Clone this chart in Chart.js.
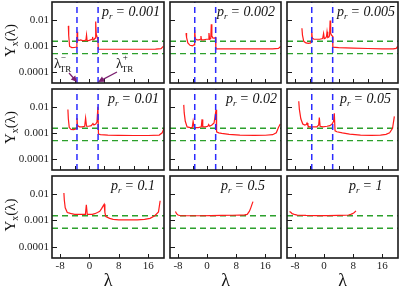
<!DOCTYPE html>
<html>
<head>
<meta charset="utf-8">
<title>Y_x(lambda) for several p_r</title>
<script src="https://cdn.jsdelivr.net/npm/chart.js@4.4.1/dist/chart.umd.min.js"></script>
<style>
  html, body { margin: 0; padding: 0; background: #fff; }
  body { position: relative; width: 399px; height: 289px; overflow: hidden; }
  canvas { position: absolute; }
</style>
</head>
<body>
<script>
// ---- data ----
var prLabels = ["0.001", "0.002", "0.005", "0.01", "0.02", "0.05", "0.1", "0.5", "1"];
var lamTR = [-3.4, 2.35];            // lambda_TR^- and lambda_TR^+
var greenLevels = [0.0015, 0.0005];
var xTickLabels = [-8, 0, 8, 16];
var xMinorTicks = [-8, -4, 0, 4, 8, 12, 16];
var yTicks = [0.01, 0.001, 0.0001];
var yTickText = ["0.01", "0.001", "0.0001"];

var lam1 = [-5.75,-5.65,-5.4,-4.8,-4.0,-3.55,-3.42,-3.35,-3.22,-2.9,-2.4,-1.9,-1.3,-0.95,-0.8,-0.65,-0.2,0.3,0.7,0.85,1.0,1.3,1.55,1.7,1.85,2.1,2.3,2.4,3.0,6,10,14,18,19.5,20.1];
var y1 = [0.0059,0.0025,0.00095,0.00086,0.00087,0.0009,0.0014,0.0035,0.0018,0.0016,0.0017,0.0016,0.0016,0.0017,0.0026,0.0016,0.0016,0.0017,0.0018,0.0022,0.0017,0.0018,0.002,0.0086,0.0028,0.0022,0.0019,0.00074,0.00074,0.00074,0.00074,0.00074,0.00075,0.00078,0.00095];

var lam2 = [-5.8,-5.65,-5.3,-4.7,-4.0,-3.6,-3.45,-3.38,-3.25,-2.8,-2.2,-1.85,-1.7,-1.55,-0.9,-0.2,0.3,0.5,0.7,1.0,1.15,1.3,1.6,2.0,2.3,2.4,3.5,8,13,18,19.6,20.2];
var y2 = [0.0031,0.0021,0.0013,0.00105,0.001,0.0011,0.0016,0.0041,0.0019,0.0017,0.0017,0.0018,0.0024,0.0017,0.0017,0.0018,0.0018,0.0031,0.0018,0.0019,0.0068,0.0024,0.002,0.002,0.0021,0.00076,0.00076,0.00076,0.00076,0.00077,0.0008,0.00095];

var lam3 = [-6.1,-5.95,-5.6,-5.0,-4.3,-3.7,-3.5,-3.4,-3.25,-2.8,-2.0,-1.2,-0.4,-0.15,0.05,0.4,0.65,0.8,1.0,1.3,1.5,1.65,1.8,2.1,2.3,2.4,4,8,12,16,19,19.8,20.2];
var y3 = [0.0048,0.0026,0.0015,0.0013,0.00125,0.0013,0.0016,0.0035,0.002,0.0018,0.0018,0.0018,0.0019,0.003,0.0019,0.002,0.0023,0.0035,0.0021,0.0022,0.0025,0.0094,0.003,0.0025,0.0024,0.00089,0.00086,0.00082,0.00079,0.00077,0.00076,0.0008,0.00095];

var lam4 = [-5.87,-5.75,-5.5,-5.0,-4.3,-3.7,-3.5,-3.4,-3.25,-2.7,-2.0,-1.3,-1.05,-0.8,-0.2,0.5,0.95,1.2,1.7,2.05,2.3,2.45,3,5,8,12,16,19,19.8,20.3];
var y4 = [0.0079,0.0035,0.0016,0.00135,0.00133,0.0014,0.0016,0.0037,0.0019,0.0017,0.0017,0.0018,0.0037,0.0018,0.0018,0.0019,0.0023,0.002,0.0022,0.0026,0.01,0.0009,0.00086,0.00082,0.0008,0.00079,0.00079,0.00082,0.001,0.0015];

var lam5 = [-6.42,-6.3,-6.0,-5.5,-4.6,-4.1,-3.85,-3.6,-3.2,-2.4,-1.6,-1.4,-1.2,-0.5,0.2,0.43,0.7,1.3,1.9,2.2,2.45,2.6,3.2,4,6,9,13,16,18,19,19.6,20.1];
var y5 = [0.012,0.006,0.0028,0.0017,0.0016,0.0016,0.0028,0.0017,0.0016,0.0016,0.0017,0.0033,0.0017,0.0017,0.0018,0.0021,0.0018,0.002,0.0024,0.0045,0.0077,0.0011,0.001,0.00095,0.00088,0.00082,0.0008,0.00081,0.00085,0.001,0.0016,0.0022];

var lam6 = [-6.97,-6.8,-6.4,-5.87,-5.3,-4.9,-4.7,-4.45,-4.0,-3.0,-2.0,-1.5,-1.32,-1.1,-0.3,0.8,1.6,2.2,2.6,2.8,3.0,3.5,5,7,10,13,15.5,17,18,18.8,19.3];
var y6 = [0.0165,0.008,0.0035,0.0022,0.002,0.0021,0.0024,0.0019,0.0017,0.0017,0.0017,0.002,0.0039,0.0018,0.0017,0.0018,0.0019,0.0022,0.0028,0.0057,0.0012,0.0011,0.001,0.0009,0.00082,0.0008,0.00082,0.00088,0.001,0.0015,0.0043];

var lam7 = [-6.96,-6.85,-6.6,-6.04,-5.4,-4.94,-4.0,-3.1,-2.0,-1.1,-0.85,-0.6,0,0.8,1.44,2.2,2.8,3.3,3.7,4.0,4.2,4.46,5.5,6.45,8,10,13,15,16.5,17.8,18.8,19.25];
var y7 = [0.011,0.006,0.003,0.002,0.0019,0.0018,0.0017,0.0017,0.0017,0.0017,0.0039,0.0017,0.0017,0.0017,0.0018,0.002,0.0022,0.0028,0.0035,0.0041,0.002,0.0014,0.0012,0.0011,0.00105,0.00105,0.00105,0.0011,0.0012,0.0015,0.0021,0.0056];

var lam8 = [-8.7,-8.4,-8.0,-7.3,-5,-2,1,4,7,9,10.3,11.0,11.6,12.0,12.3,12.6];
var y8 = [0.0022,0.0018,0.0016,0.0015,0.0015,0.0015,0.00152,0.00155,0.00157,0.0016,0.00162,0.0017,0.0022,0.003,0.004,0.0052];

var lam9 = [-9.5,-9.1,-8.8,-8.2,-7.4,-5,-2,1,4,6,6.7,7.3,7.8,8.3,8.75];
var y9 = [0.0022,0.002,0.0018,0.0017,0.0016,0.00155,0.00153,0.00153,0.00155,0.00157,0.0016,0.0017,0.0018,0.002,0.0023];

var curves = [[lam1, y1], [lam2, y2], [lam3, y3], [lam4, y4], [lam5, y5], [lam6, y6], [lam7, y7], [lam8, y8], [lam9, y9]];

// ---- layout / style ----
var colLeft = [52, 169, 286], rowTop = [2, 89, 176];
var panelW = 112, panelH = 82;
var labelDx = [50, 47, 50, 56, 56, 53, 59, 51, 62];
var X_MIN = -10.2, X_MAX = 20.3, Y_MIN = 3.7e-5, Y_MAX = 0.049;
var SERIF = '"Liberation Serif", "Times New Roman", serif';
Chart.defaults.font.family = SERIF;

function drawTR(ctx, x, y, sign) {
  ctx.font = '14px ' + SERIF;
  ctx.fillText('λ', x, y);
  var w = ctx.measureText('λ').width;
  ctx.font = '9px ' + SERIF;
  ctx.fillText(sign, x + w, y - 8);
  ctx.fillText('TR', x + w - 1, y + 4);
}

function arrow(ctx, x0, y0, x1, y1) {
  var ang = Math.atan2(y1 - y0, x1 - x0);
  ctx.beginPath();
  ctx.moveTo(x0, y0);
  ctx.lineTo(x1 - 4 * Math.cos(ang), y1 - 4 * Math.sin(ang));
  ctx.stroke();
  ctx.beginPath();
  ctx.moveTo(x1, y1);
  ctx.lineTo(x1 - 6 * Math.cos(ang) + 3 * Math.sin(ang), y1 - 6 * Math.sin(ang) - 3 * Math.cos(ang));
  ctx.lineTo(x1 - 6 * Math.cos(ang) - 3 * Math.sin(ang), y1 - 6 * Math.sin(ang) + 3 * Math.cos(ang));
  ctx.closePath();
  ctx.fill();
}

var panelDeco = {
  id: 'panelDeco',
  afterDatasetsDraw: function (chart, args, o) {
    var i = o.idx, r = Math.floor(i / 3), c = i % 3;
    var ctx = chart.ctx, a = chart.chartArea, xs = chart.scales.x, ys = chart.scales.y;
    ctx.save();
    // inward tick marks
    ctx.strokeStyle = '#1a1a1a';
    ctx.lineWidth = 1;
    ctx.beginPath();
    (r === 2 ? xTickLabels : xMinorTicks).forEach(function (v) {
      var px = Math.round(xs.getPixelForValue(v)) + 0.5;
      ctx.moveTo(px, a.bottom);
      ctx.lineTo(px, a.bottom - 4);
    });
    yTicks.forEach(function (v) {
      var py = Math.round(ys.getPixelForValue(v)) + 0.5;
      ctx.moveTo(a.left, py);
      ctx.lineTo(a.left + 5, py);
    });
    ctx.stroke();
    // frame
    ctx.lineWidth = 1.6;
    ctx.strokeRect(a.left, a.top, a.right - a.left, a.bottom - a.top);

    // p_r label
    ctx.fillStyle = '#111';
    ctx.textBaseline = 'alphabetic';
    ctx.textAlign = 'left';
    var x = a.left + labelDx[i], y = a.top + 14;
    ctx.font = 'italic 14px ' + SERIF;
    ctx.fillText('p', x, y);
    x += ctx.measureText('p').width;
    ctx.font = 'italic 9px ' + SERIF;
    ctx.fillText('r', x, y + 3);
    x += ctx.measureText('r').width + 3;
    ctx.font = 'italic 14px ' + SERIF;
    ctx.fillText('= ' + prLabels[i], x, y);

    // y title on the left column
    if (c === 0) {
      ctx.save();
      ctx.translate(10, (a.top + a.bottom) / 2 - 2);
      ctx.rotate(-Math.PI / 2);
      ctx.font = '15px ' + SERIF;
      var wY = ctx.measureText('Y').width, wP = ctx.measureText('(λ)').width;
      ctx.font = '10px ' + SERIF;
      var wx = ctx.measureText('x').width;
      var sx = -(wY + wx + wP) / 2;
      ctx.font = '15px ' + SERIF;
      ctx.fillText('Y', sx, 5);
      ctx.font = '10px ' + SERIF;
      ctx.fillText('x', sx + wY, 8);
      ctx.font = '15px ' + SERIF;
      ctx.fillText('(λ)', sx + wY + wx, 5);
      ctx.restore();
    }

    // lambda_TR annotations
    if (i === 0) {
      drawTR(ctx, a.left + 2, a.top + 66, '−');
      drawTR(ctx, a.left + 64, a.top + 66, '+');
      ctx.strokeStyle = '#7a1e6e';
      ctx.fillStyle = '#7a1e6e';
      ctx.lineWidth = 1.2;
      arrow(ctx, a.left + 17, a.top + 71, xs.getPixelForValue(lamTR[0]), a.bottom - 1);
      arrow(ctx, a.left + 65, a.top + 70, xs.getPixelForValue(lamTR[1]), a.bottom - 1);
    }
    ctx.restore();
  }
};

function makePanel(i) {
  var r = Math.floor(i / 3), c = i % 3;
  var gutL = c === 0 ? 52 : 1;
  var gutB = r === 2 ? 34 : 1;
  var w = gutL + panelW + 1, h = 1 + panelH + gutB;
  var cv = document.createElement('canvas');
  cv.width = w; cv.height = h;
  cv.style.left = (colLeft[c] - gutL) + 'px';
  cv.style.top = (rowTop[r] - 1) + 'px';
  cv.style.width = w + 'px';
  cv.style.height = h + 'px';
  document.body.appendChild(cv);

  var lam = curves[i][0], yv = curves[i][1];
  var ds = [];
  if (r < 2) {
    lamTR.forEach(function (v) {
      ds.push({ data: [{ x: v, y: Y_MIN }, { x: v, y: Y_MAX }], borderColor: '#2b2bff', borderWidth: 1.5, borderDash: [6, 4] });
    });
  }
  ds.push({ data: lam.map(function (v, k) { return { x: v, y: yv[k] }; }), borderColor: '#ff1a1a', borderWidth: 1.2 });
  greenLevels.forEach(function (v) {
    ds.push({ data: [{ x: X_MIN, y: v }, { x: X_MAX, y: v }], borderColor: '#2ca02c', borderWidth: 1.4, borderDash: [6, 4] });
  });

  new Chart(cv, {
    type: 'line',
    data: { datasets: ds },
    options: {
      responsive: false,
      animation: false,
      devicePixelRatio: 1,
      layout: { padding: { left: c === 0 ? 0 : 1, top: 1, right: 1, bottom: r === 2 ? 0 : 1 } },
      elements: { point: { radius: 0 }, line: { tension: 0 } },
      plugins: { legend: { display: false }, tooltip: { enabled: false }, panelDeco: { idx: i } },
      scales: {
        x: {
          type: 'linear', min: X_MIN, max: X_MAX, display: r === 2,
          grid: { display: false, drawTicks: false }, border: { display: false },
          afterBuildTicks: function (s) { s.ticks = xTickLabels.map(function (v) { return { value: v }; }); },
          afterFit: function (s) { s.height = gutB; s.paddingLeft = 0; s.paddingRight = 0; },
          ticks: { font: { size: 11 }, color: '#222', padding: 2, maxRotation: 0, callback: function (v) { return String(v); } },
          title: { display: true, text: 'λ', font: { size: 18 }, color: '#111', padding: 0 }
        },
        y: {
          type: 'logarithmic', min: Y_MIN, max: Y_MAX, display: c === 0,
          grid: { display: false, drawTicks: false }, border: { display: false },
          afterBuildTicks: function (s) { s.ticks = yTicks.map(function (v) { return { value: v }; }); },
          afterFit: function (s) { s.width = gutL; s.paddingTop = 0; s.paddingBottom = 0; },
          ticks: { font: { size: 11 }, color: '#222', padding: 3, callback: function (v, k) { return yTickText[k]; } }
        }
      }
    },
    plugins: [panelDeco]
  });
}

for (var i = 0; i < 9; i++) makePanel(i);
</script>
</body>
</html>
